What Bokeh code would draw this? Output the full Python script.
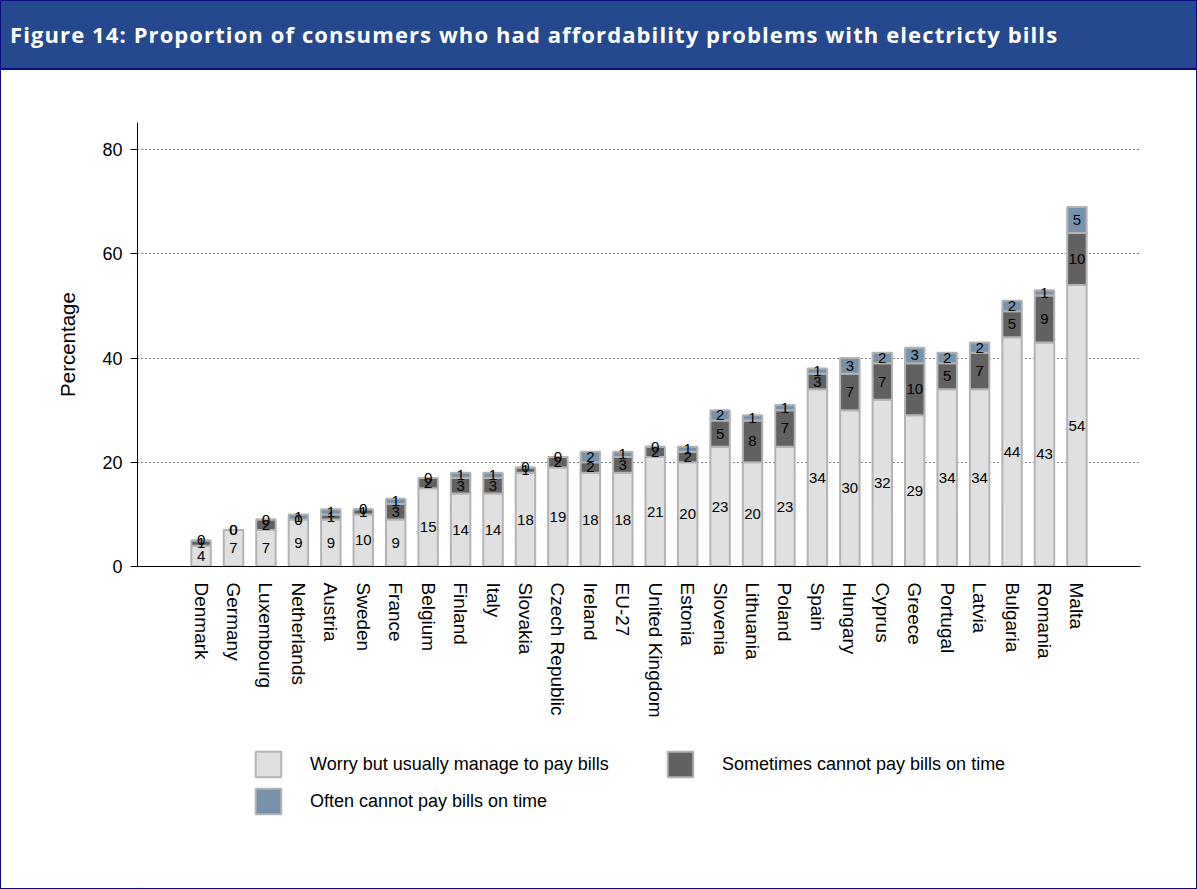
from bokeh.plotting import figure
from bokeh.models import (ColumnDataSource, FactorRange, Range1d, FixedTicker,
                          Legend, LegendItem, Div)
from bokeh.layouts import column
from bokeh.core.properties import value
from bokeh.embed import file_html
from bokeh.resources import INLINE

# ---- data -----------------------------------------------------------------
countries = ["Denmark", "Germany", "Luxembourg", "Netherlands", "Austria",
             "Sweden", "France", "Belgium", "Finland", "Italy", "Slovakia",
             "Czech Republic", "Ireland", "EU-27", "United Kingdom", "Estonia",
             "Slovenia", "Lithuania", "Poland", "Spain", "Hungary", "Cyprus",
             "Greece", "Portugal", "Latvia", "Bulgaria", "Romania", "Malta"]
worry = [4, 7, 7, 9, 9, 10, 9, 15, 14, 14, 18, 19, 18, 18, 21, 20,
         23, 20, 23, 34, 30, 32, 29, 34, 34, 44, 43, 54]
sometimes = [1, 0, 2, 0, 1, 1, 3, 2, 3, 3, 1, 2, 2, 3, 2, 2,
             5, 8, 7, 3, 7, 7, 10, 5, 7, 5, 9, 10]
often = [0, 0, 0, 1, 1, 0, 1, 0, 1, 1, 0, 0, 2, 1, 0, 1,
         2, 1, 1, 1, 3, 2, 3, 2, 2, 2, 1, 5]
series_names = ["Worry but usually manage to pay bills",
                "Sometimes cannot pay bills on time",
                "Often cannot pay bills on time"]
y_ticks = [0, 20, 40, 60, 80]

title_text = ("Figure 14: Proportion of consumers who had affordability "
              "problems with electricty bills")

# ---- styling --------------------------------------------------------------
NAVY = "#0c0c80"
BAR_COLORS = ["#e0e0e0", "#616161", "#7892ac"]
BAR_EDGE = "#b3b3b3"
FONT = "Liberation Sans"

# ---- title bar ------------------------------------------------------------
head = Div(text=title_text, width=1195, height=69, margin=0,
           styles={"box-sizing": "border-box",
                   "background-color": "#25498e",
                   "color": "white",
                   "font-family": "'Open Sans', sans-serif",
                   "font-weight": "bold",
                   "font-size": "22px",
                   "letter-spacing": "1.1px",
                   "line-height": "67px",
                   "padding-left": "9px",
                   "white-space": "nowrap",
                   "border-bottom": f"2px solid {NAVY}"})

# ---- stacked bar chart ----------------------------------------------------
src = ColumnDataSource(dict(country=countries, worry=worry,
                            sometimes=sometimes, often=often))

p = figure(width=1195, height=665,
           x_range=FactorRange(*countries, range_padding=1.46,
                               range_padding_units="absolute"),
           y_range=Range1d(0, 85.2),
           toolbar_location=None, output_backend="svg",
           min_border_left=136, min_border_right=56,
           min_border_top=52, min_border_bottom=169,
           outline_line_color=None)

p.vbar_stack(["worry", "sometimes", "often"], x="country", width=0.6,
             source=src, fill_color=BAR_COLORS, line_color=BAR_EDGE,
             line_width=2)

# value labels centred in each segment
lx, ly, lt = [], [], []
for i, c in enumerate(countries):
    base = 0
    for series in (worry, sometimes, often):
        v = series[i]
        lx.append(c)
        ly.append(base + v / 2)
        lt.append(str(v))
        base += v
p.text(x=lx, y=ly, text=lt, text_align="center", text_baseline="middle",
       text_font=value(FONT), text_font_size="15px", text_color="black")

# axes
p.yaxis.ticker = FixedTicker(ticks=y_ticks)
p.yaxis.axis_label = "Percentage"
p.yaxis.axis_label_text_font = FONT
p.yaxis.axis_label_text_font_style = "normal"
p.yaxis.axis_label_text_font_size = "20.5px"
p.yaxis.axis_label_text_color = "black"
p.yaxis.axis_label_standoff = 20
p.yaxis.major_label_text_font = FONT
p.yaxis.major_label_text_font_size = "18px"
p.yaxis.major_label_text_color = "black"
p.yaxis.major_label_standoff = 8
p.yaxis.major_tick_out = 7
p.yaxis.major_tick_in = 0
p.yaxis.minor_tick_line_color = None
p.yaxis.axis_line_color = "black"
p.yaxis.major_tick_line_color = "black"

p.xaxis.major_label_orientation = "vertical"
p.xaxis.major_label_text_font = FONT
p.xaxis.major_label_text_font_size = "19px"
p.xaxis.major_label_text_color = "black"
p.xaxis.major_label_standoff = 10
p.xaxis.major_tick_line_color = None
p.xaxis.axis_line_color = "black"

p.xgrid.visible = False
p.ygrid.ticker = FixedTicker(ticks=y_ticks)
p.ygrid.grid_line_color = "black"
p.ygrid.grid_line_dash = "1 3"
p.ygrid.grid_line_width = 1

# ---- legend strip ---------------------------------------------------------
# swatch renderers sit outside the visible range; only their legend entries show
leg = figure(width=1195, height=153, x_range=Range1d(0, 1), y_range=Range1d(0, 1),
             toolbar_location=None, output_backend="svg",
             min_border_left=136, min_border_right=56,
             min_border_top=0, min_border_bottom=0,
             outline_line_color=None)
leg.axis.visible = False
leg.grid.visible = False
swatches = [leg.vbar(x=[-5], top=[-5], bottom=[-6], width=0.5, fill_color=c,
                     line_color=BAR_EDGE, line_width=2) for c in BAR_COLORS]
items = [LegendItem(label=n, renderers=[r]) for n, r in zip(series_names, swatches)]
legend = Legend(items=items, orientation="horizontal", ncols=2,
                location=(115, 71), padding=0, margin=0, spacing=5,
                glyph_width=32, glyph_height=32, label_standoff=26,
                label_width=349, label_height=32,
                label_text_font=FONT, label_text_font_size="18px",
                label_text_color="black",
                background_fill_alpha=0, border_line_color=None)
leg.add_layout(legend, "center")

page = column(head, p, leg, styles={"border": f"1px solid {NAVY}"})

open("out.html", "w").write(file_html(page, INLINE))
